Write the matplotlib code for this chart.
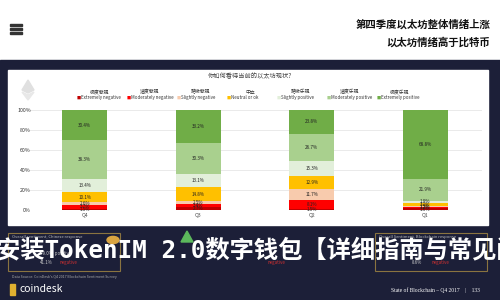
import matplotlib
matplotlib.use("Agg")
import matplotlib.pyplot as plt
from matplotlib.patches import Rectangle, Polygon
import numpy as np

plt.rcParams['font.family'] = ['Noto Sans CJK SC', 'DejaVu Sans']

# data
quarters = ['Q4', 'Q3', 'Q2', 'Q1']
cats_cn = ['极度悲观', '适度悲观', '略微悲观', '中立', '略微乐观', '适度乐观', '极度乐观']
cats_en = ['Extremely negative', 'Moderately negative', 'Slightly negative', 'Neutral or ok',
           'Slightly positive', 'Moderately positive', 'Extremely positive']
colors = ['#c00000', '#ff0000', '#f8cbad', '#ffc000', '#e2efda', '#a9d08e', '#70ad47']
ext_neg = [1.5, 2.7, 1.5, 1.6]
mod_neg = [3.7, 3.4, 8.1, 1.2]
sli_neg = [2.6, 2.5, 11.7, 1.5]
neutral = [10.1, 14.8, 12.9, 3.1]
sli_pos = [13.4, 13.1, 15.3, 1.9]
mod_pos = [38.3, 30.3, 26.7, 21.9]
ext_pos = [30.4, 33.2, 23.8, 68.8]
series = [ext_neg, mod_neg, sli_neg, neutral, sli_pos, mod_pos, ext_pos]
y_ticks = [0, 20, 40, 60, 80, 100]

W, H = 500, 300
fig = plt.figure(figsize=(5, 3), dpi=100)
fig.patch.set_facecolor('white')

def fx(x):
    return x / W

def fy(y):
    return 1 - y / H

navy = '#1c1f38'
# dark band + white panel
fig.patches.append(Rectangle((0, 0), 1, fy(60), transform=fig.transFigure, color=navy, zorder=0))
fig.patches.append(Rectangle((fx(8), fy(225)), fx(480), (225 - 70) / H, transform=fig.transFigure,
                             color='white', zorder=1))

# top header
for yy in (25, 29, 33):
    fig.patches.append(Rectangle((fx(10), fy(yy) - 0.004), fx(12), 0.008, transform=fig.transFigure,
                                 color='#333333', zorder=2))
fig.text(fx(490), fy(24), '第四季度以太坊整体情绪上涨', ha='right', va='center', fontsize=7.5,
         fontweight='bold', color='#111111')
fig.text(fx(490), fy(42), '以太坊情绪高于比特币', ha='right', va='center', fontsize=7.5,
         fontweight='bold', color='#111111')

# panel title
fig.text(fx(250), fy(76), '你如何看待当前的以太坊现状?', ha='center', va='center', fontsize=4.5,
         color='#444444', zorder=3)

# faint ethereum logo
fig.patches.append(Polygon([(fx(28), fy(80)), (fx(22), fy(90)), (fx(28), fy(93)), (fx(34), fy(90))],
                           closed=True, transform=fig.transFigure, color='#e0e0e0', zorder=2))
fig.patches.append(Polygon([(fx(22), fy(92)), (fx(28), fy(100)), (fx(34), fy(92)), (fx(28), fy(95))],
                           closed=True, transform=fig.transFigure, color='#e8e8e8', zorder=2))

# legend
for i, (cn, en, c) in enumerate(zip(cats_cn, cats_en, colors)):
    x = 100 + i * 50
    fig.text(fx(x), fy(92), cn, ha='center', va='center', fontsize=3.5, color='#333333', zorder=3)
    fig.text(fx(x - 23), fy(97.5), '■', ha='left', va='center', fontsize=3, color=c, zorder=3)
    fig.text(fx(x - 19), fy(97.5), en, ha='left', va='center', fontsize=3.2, color='#333333', zorder=3)

# chart
ax = fig.add_axes([fx(28), fy(210), fx(482 - 28), (210 - 110) / H], zorder=4)
ax.set_facecolor('none')
x = np.arange(len(quarters))
bottom = np.zeros(len(quarters))
for vals, c in zip(series, colors):
    vals = np.array(vals)
    ax.bar(x, vals, 0.4, bottom=bottom, color=c, edgecolor='none', zorder=3)
    for xi, v, b in zip(x, vals, bottom):
        if v > 0:
            ax.text(xi, b + v / 2, f'{v:.1f}%', ha='center', va='center', fontsize=3.3,
                    color='#222222', zorder=4)
    bottom += vals
ax.set_xlim(-0.5, 3.5)
ax.set_ylim(0, 100)
ax.set_yticks(y_ticks)
ax.set_yticklabels([f'{t}%' for t in y_ticks], fontsize=3.8, color='#333333')
ax.set_xticks(x)
ax.set_xticklabels(quarters, fontsize=3.8, color='#555555')
ax.tick_params(length=0, pad=2)
ax.yaxis.set_tick_params(pad=-2)
ax.grid(axis='y', color='#e6e6e6', linewidth=0.6, zorder=0)
for s in ax.spines.values():
    s.set_visible(False)

# bottom boxes
gold = '#8a7440'
for bx in (8, 375):
    fig.patches.append(Rectangle((fx(bx), fy(271)), fx(112), (271 - 233) / H, transform=fig.transFigure,
                                 fill=False, edgecolor=gold, linewidth=0.8, zorder=2))
fig.text(fx(12), fy(238), 'Overall sentiment, Chinese response', fontsize=3, color='#bbbbbb', zorder=3)
fig.patches.append(plt.Circle((fx(113), fy(240)), 0.012, transform=fig.transFigure, color='#d9a441', zorder=3))
fig.text(fx(40), fy(255), '49.0%  positive', fontsize=3.2, color='#cccccc', zorder=3)
fig.text(fx(40), fy(264), '41.1%', fontsize=3.2, color='#cccccc', zorder=3)
fig.text(fx(60), fy(264), 'negative', fontsize=3.2, color='#d03030', zorder=3)
fig.text(fx(379), fy(238), 'Overall Sentiment, Blockchain response', fontsize=3, color='#bbbbbb', zorder=3)
fig.text(fx(412), fy(264), '8.6%', fontsize=3.2, color='#cccccc', zorder=3)
fig.text(fx(432), fy(264), 'negative', fontsize=3.2, color='#d03030', zorder=3)
fig.patches.append(Polygon([(fx(181), fy(242)), (fx(187), fy(231)), (fx(193), fy(242))], closed=True,
                           transform=fig.transFigure, color='#5cb85c', zorder=3))
fig.text(fx(268), fy(264), 'negative', fontsize=3.2, color='#d03030', zorder=3)

# overlay headline
fig.text(fx(-4), fy(250), '安装TokenIM 2.0数字钱包【详细指南与常见问题】',
         ha='left', va='center', fontsize=17.5, fontweight='bold', color='white',
         family=['DejaVu Sans Mono', 'Noto Sans CJK SC'], zorder=6)

# footer
fig.text(fx(12), fy(278), "Data Source: CoinDesk's Q4 2017 Blockchain Sentiment Survey", fontsize=2.6,
         color='#aaaaaa', zorder=3)
fig.patches.append(Rectangle((fx(10), fy(295)), fx(5), 11 / H, transform=fig.transFigure,
                             color='#e0b030', zorder=3))
fig.text(fx(20), fy(289), 'coindesk', ha='left', va='center', fontsize=7.5, color='white', zorder=3)
fig.text(fx(480), fy(290), 'State of Blockchain – Q4 2017    |    133', ha='right', va='center',
         fontsize=4, color='white', family='Liberation Serif', zorder=3)

fig.savefig('out.png', dpi=100, facecolor=fig.get_facecolor())
